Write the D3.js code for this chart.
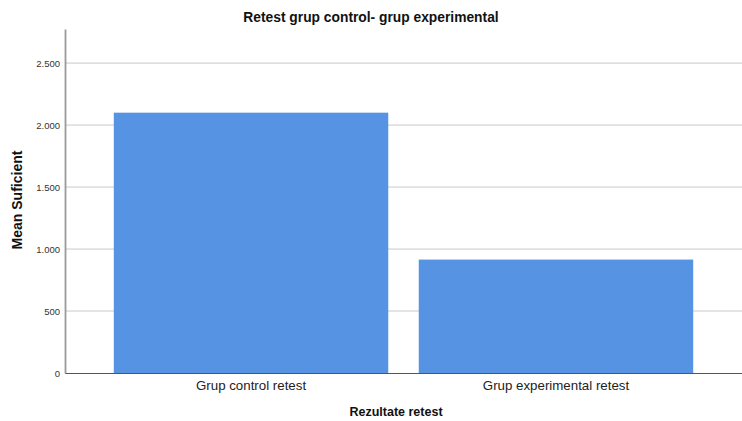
<!DOCTYPE html>
<html>
<head>
<meta charset="utf-8">
<script src="https://cdn.jsdelivr.net/npm/d3@7"></script>
<style>
  body { margin: 0; background: #fff; }
  text { font-family: "Liberation Sans", Arial, sans-serif; }
</style>
</head>
<body>
<script>
// data
var categories = ["Grup control retest", "Grup experimental retest"];
var means = [2100, 915];
var yTicks = [0, 500, 1000, 1500, 2000, 2500];

var W = 742, H = 421;
var margin = {top: 29, right: 0, bottom: 48, left: 65};

var svg = d3.select("body").append("svg")
    .attr("width", W)
    .attr("height", H);

var x = d3.scaleBand()
    .domain(categories)
    .range([margin.left, W - margin.right])
    .paddingInner(0.1)
    .paddingOuter(0.16);

var y = d3.scaleLinear()
    .domain([0, 2775])
    .range([H - margin.bottom, margin.top]);

// dot as thousands separator
var fmt = d3.formatLocale({decimal: ",", thousands: ".", grouping: [3], currency: ["", ""]}).format(",.0f");

// gridlines
svg.append("g").selectAll("line")
    .data(yTicks.filter(function(d){ return d > 0; }))
    .enter().append("line")
    .attr("x1", margin.left).attr("x2", W - margin.right)
    .attr("y1", function(d){ return y(d); })
    .attr("y2", function(d){ return y(d); })
    .style("stroke", "#c9c9c9")
    .style("stroke-width", 1);

// bars
svg.append("g").selectAll("rect")
    .data(means)
    .enter().append("rect")
    .attr("x", function(d, i){ return x(categories[i]); })
    .attr("width", x.bandwidth())
    .attr("y", function(d){ return y(d); })
    .attr("height", function(d){ return y(0) - y(d); })
    .style("fill", "#5694e3");

// y axis
var yAxis = svg.append("g")
    .attr("transform", "translate(" + margin.left + ",0)")
    .call(d3.axisLeft(y).tickValues(yTicks).tickFormat(fmt).tickSize(0).tickPadding(5));
yAxis.select(".domain").style("stroke", "#9a9a9a").style("stroke-width", 1.8);
yAxis.selectAll("text").style("font-size", "9.5px").style("fill", "#333");

// x axis
var xAxis = svg.append("g")
    .attr("transform", "translate(0," + y(0) + ")")
    .call(d3.axisBottom(x).tickSize(0).tickPadding(8));
xAxis.select(".domain").style("stroke", "#555").style("stroke-width", 1);
xAxis.selectAll("text").style("font-size", "13.3px").style("fill", "#222");

// title
svg.append("text")
    .attr("x", 371).attr("y", 22)
    .attr("text-anchor", "middle")
    .style("font-size", "13.8px").style("font-weight", "bold").style("fill", "#111")
    .text("Retest grup control- grup experimental");

// axis titles
svg.append("text")
    .attr("x", 396).attr("y", 416)
    .attr("text-anchor", "middle")
    .style("font-size", "12.5px").style("font-weight", "bold").style("fill", "#111")
    .text("Rezultate retest");

svg.append("text")
    .attr("transform", "translate(22,200) rotate(-90)")
    .attr("text-anchor", "middle")
    .style("font-size", "14px").style("font-weight", "bold").style("fill", "#111")
    .text("Mean Suficient");
</script>
</body>
</html>
